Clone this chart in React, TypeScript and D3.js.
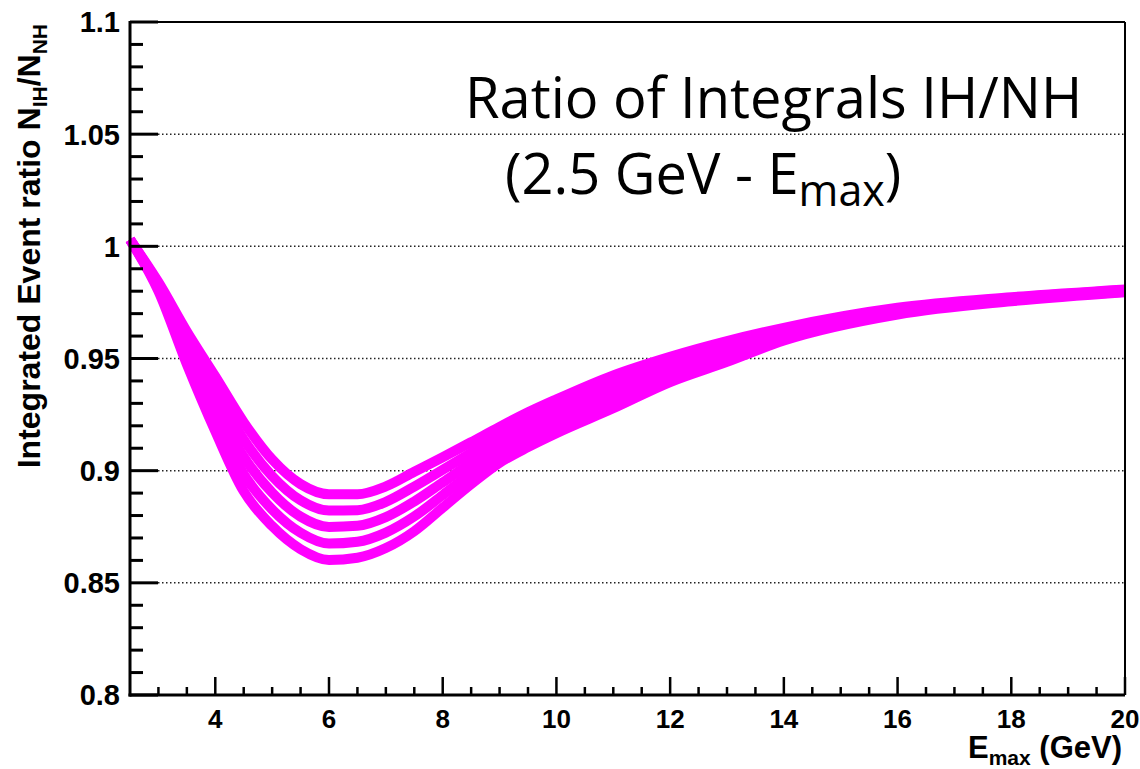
import React from 'react';
import * as d3 from 'd3';

// ---- Data (E_max in GeV, ratio N_IH/N_NH) ----
const energies = [2.5, 3, 3.5, 4, 4.5, 5, 5.5, 6, 6.5, 7, 7.5, 8, 8.5, 9, 9.5, 10, 11, 12, 13, 14, 16, 18, 20];
const ratioA = [1.003, 0.984, 0.962, 0.942, 0.9216, 0.905, 0.894, 0.8895, 0.8895, 0.893, 0.8995, 0.906, 0.9127, 0.9195, 0.926, 0.9318, 0.9425, 0.9508, 0.9578, 0.9637, 0.9726, 0.9773, 0.9808];
const ratioB = [1.003, 0.983, 0.9584, 0.9359, 0.9139, 0.8976, 0.8868, 0.8822, 0.8824, 0.8861, 0.8929, 0.9004, 0.908, 0.9155, 0.9221, 0.928, 0.9388, 0.948, 0.9555, 0.9623, 0.9719, 0.9769, 0.9805];
const ratioC = [1.003, 0.982, 0.9547, 0.9298, 0.9062, 0.8902, 0.8795, 0.8749, 0.8754, 0.8793, 0.8863, 0.8948, 0.9034, 0.9115, 0.9183, 0.9243, 0.9352, 0.9452, 0.9532, 0.9609, 0.9711, 0.9764, 0.9802];
const ratioD = [1.003, 0.981, 0.951, 0.9237, 0.8985, 0.8827, 0.8723, 0.8675, 0.8683, 0.8724, 0.8796, 0.8891, 0.8987, 0.9075, 0.9144, 0.9205, 0.9315, 0.9423, 0.9508, 0.9594, 0.9704, 0.976, 0.9798];
const ratioE = [1.003, 0.980, 0.9474, 0.9176, 0.8908, 0.8753, 0.865, 0.8602, 0.8612, 0.8655, 0.873, 0.8835, 0.894, 0.9035, 0.9105, 0.9167, 0.9278, 0.9395, 0.9485, 0.958, 0.9696, 0.9755, 0.9795];
const seriesList = [ratioA, ratioB, ratioC, ratioD, ratioE];

const yTickLabels = ['0.8', '0.85', '0.9', '0.95', '1', '1.05', '1.1'];
const gridValues = [0.85, 0.9, 0.95, 1.0, 1.05];
const xTickLabels = ['4', '6', '8', '10', '12', '14', '16', '18', '20'];

const W = 1140;
const H = 769;
const M = { left: 130, right: 1125, top: 22, bottom: 695 };

export default function App() {
  const x = d3.scaleLinear().domain([2.5, 20]).range([M.left, M.right]);
  const y = d3.scaleLinear().domain([0.8, 1.1]).range([M.bottom, M.top]);

  const line = d3
    .line<number>()
    .x((_, i) => x(energies[i]))
    .y((d) => y(d))
    .curve(d3.curveMonotoneX);

  const yMajor = yTickLabels.map((t) => +t);
  const yMinor = d3.range(0.8, 1.1001, 0.01).filter((v) => !yMajor.some((m) => Math.abs(m - v) < 1e-6));
  const xMajor = xTickLabels.map((t) => +t);
  const xMinor = d3.range(3, 20.001, 0.5).filter((v) => !xMajor.some((m) => Math.abs(m - v) < 1e-6));

  const axisFont = "'Liberation Sans', Arial, Helvetica, sans-serif";
  const titleFont = "'Open Sans', 'Noto Sans', sans-serif";

  return (
    <svg
      width={W}
      height={H}
      viewBox={`0 0 ${W} ${H}`}
      style={{ position: 'absolute', left: 0, top: 0, background: '#fff' }}
    >
      <rect x={0} y={0} width={W} height={H} fill="#fff" />

      {/* dotted grid */}
      {gridValues.map((g) => (
        <line
          key={'g' + g}
          x1={M.left}
          x2={M.right}
          y1={y(g)}
          y2={y(g)}
          stroke="#222"
          strokeWidth={1.5}
          strokeDasharray="1.5 2.5"
        />
      ))}

      {/* curves */}
      {seriesList.map((s, i) => (
        <path key={'c' + i} d={line(s) || ''} fill="none" stroke="#ff00ff" strokeWidth={10} strokeLinejoin="round" />
      ))}

      {/* frame */}
      <line x1={M.left} x2={M.right} y1={M.top} y2={M.top} stroke="#000" strokeWidth={2} />
      <line x1={M.right} x2={M.right} y1={M.top} y2={M.bottom} stroke="#000" strokeWidth={2} />
      <line x1={M.left} x2={M.left} y1={M.top - 1} y2={M.bottom + 1.5} stroke="#000" strokeWidth={3} />
      <line x1={M.left - 1.5} x2={M.right} y1={M.bottom} y2={M.bottom} stroke="#000" strokeWidth={3} />

      {/* y ticks */}
      {yMajor.map((v) => (
        <line key={'ym' + v} x1={M.left} x2={M.left + 28} y1={y(v)} y2={y(v)} stroke="#000" strokeWidth={3} />
      ))}
      {yMinor.map((v) => (
        <line key={'yn' + v} x1={M.left} x2={M.left + 13} y1={y(v)} y2={y(v)} stroke="#000" strokeWidth={3} />
      ))}
      {/* x ticks */}
      {xMajor.map((v) => (
        <line key={'xm' + v} x1={x(v)} x2={x(v)} y1={M.bottom} y2={M.bottom - 18} stroke="#000" strokeWidth={2.5} />
      ))}
      {xMinor.map((v) => (
        <line key={'xn' + v} x1={x(v)} x2={x(v)} y1={M.bottom} y2={M.bottom - 8} stroke="#000" strokeWidth={2.5} />
      ))}

      {/* y tick labels */}
      {yTickLabels.map((t) => (
        <text
          key={'yl' + t}
          x={M.left - 10}
          y={y(+t)}
          dy="0.36em"
          textAnchor="end"
          fontFamily={axisFont}
          fontWeight="bold"
          fontSize={29}
          fill="#000"
        >
          {t}
        </text>
      ))}
      {/* x tick labels */}
      {xTickLabels.map((t) => (
        <text
          key={'xl' + t}
          x={x(+t)}
          y={M.bottom + 33}
          textAnchor="middle"
          fontFamily={axisFont}
          fontWeight="bold"
          fontSize={26}
          fill="#000"
        >
          {t}
        </text>
      ))}

      {/* y axis title */}
      <text
        transform={`translate(40, ${M.top + 2}) rotate(-90)`}
        textAnchor="end"
        fontFamily={axisFont}
        fontWeight="bold"
        fontSize={32}
        fill="#000"
      >
        Integrated Event ratio N
        <tspan fontSize={21} dy={7}>IH</tspan>
        <tspan dy={-7}>/N</tspan>
        <tspan fontSize={21} dy={7}>NH</tspan>
      </text>

      {/* x axis title */}
      <text
        x={1122}
        y={758}
        textAnchor="end"
        fontFamily={axisFont}
        fontWeight="bold"
        fontSize={31}
        fill="#000"
      >
        E
        <tspan fontSize={21} dy={7}>max</tspan>
        <tspan dy={-7}> (GeV)</tspan>
      </text>

      {/* annotation */}
      <text x={465} y={118} fontFamily={titleFont} fontSize={56} fill="#000">
        Ratio of Integrals IH/NH
      </text>
      <text x={505} y={194} fontFamily={titleFont} fontSize={56} fill="#000">
        (2.5 GeV - E
        <tspan fontSize={43} dy={12}>max</tspan>
        <tspan dy={-12}>)</tspan>
      </text>
    </svg>
  );
}
